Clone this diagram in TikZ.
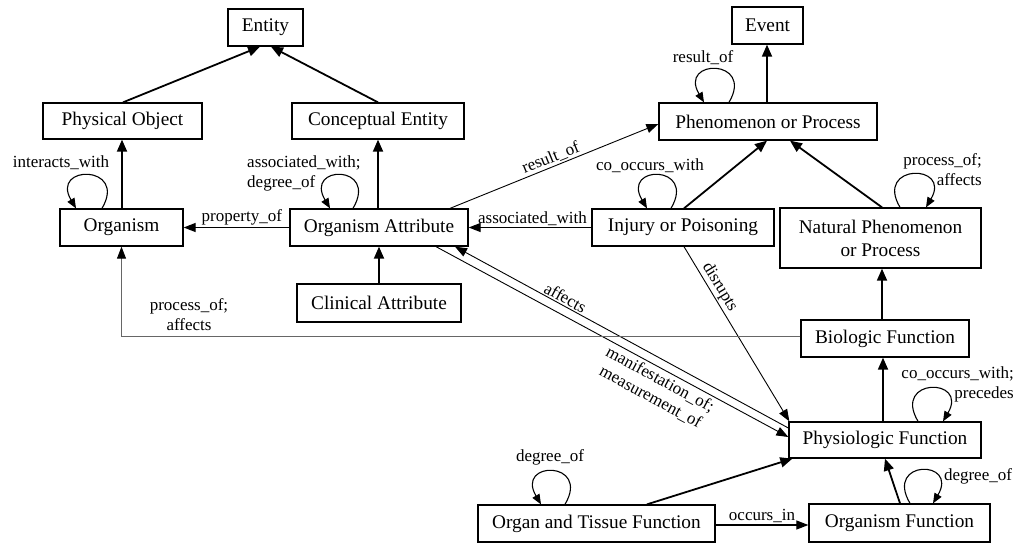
\documentclass[tikz,border=0pt]{standalone}
\usepackage{fontspec}
\setmainfont{Liberation Serif}
\usetikzlibrary{arrows.meta,calc}
\begin{document}
\begin{tikzpicture}[x=1pt,y=-1pt,
 box/.style={draw, line width=1.3pt, inner sep=0pt, font=\fontsize{19.3}{23}\selectfont, align=center},
 lbl/.style={font=\fontsize{17}{20}\selectfont, inner sep=1.5pt},
 isa/.style={line width=1.8pt, -{Triangle[length=12pt,width=10pt]}},
 rel/.style={line width=1.2pt, -{Triangle[length=12pt,width=9pt]}},
 thinrel/.style={line width=0.9pt, -{Triangle[length=12pt,width=9pt]}},
 loopar/.style={line width=1.1pt, -{Triangle[length=10pt,width=8pt]}}
]
\useasboundingbox[fill=white] (0,0) rectangle (1025,546);

% nodes
\node[box, minimum width=75pt, minimum height=37pt] (Entity) at (265.5,27.5) {Entity};
\node[box, minimum width=159pt, minimum height=36pt] (PO) at (122.5,121) {Physical Object};
\node[box, minimum width=172pt, minimum height=36pt] (CE) at (378,121) {Conceptual Entity};
\node[box, minimum width=123pt, minimum height=37pt] (Organism) at (121.5,227.5) {Organism};
\node[box, minimum width=178pt, minimum height=37pt] (OA) at (379,227.5) {Organism Attribute};
\node[box, minimum width=164pt, minimum height=38pt] (CA) at (379,303) {Clinical Attribute};
\node[box, minimum width=71pt, minimum height=37pt] (Event) at (767.5,25.5) {Event};
\node[box, minimum width=218pt, minimum height=37pt] (Phen) at (768,121.5) {Phenomenon or Process};
\node[box, minimum width=182pt, minimum height=37pt] (Inj) at (683,227.5) {Injury or Poisoning};
\node[box, minimum width=201pt, minimum height=60pt] (Nat) at (880.5,238) {Natural Phenomenon\\or Process};
\node[box, minimum width=168pt, minimum height=37pt] (Bio) at (885,338.5) {Biologic Function};
\node[box, minimum width=192pt, minimum height=36pt] (Phys) at (885,440) {Physiologic Function};
\node[box, minimum width=237pt, minimum height=37pt] (OTF) at (596.5,523.5) {Organ and Tissue Function};
\node[box, minimum width=181pt, minimum height=38pt] (OF) at (899.5,523) {Organism Function};

% hierarchy
\draw[isa] ($(PO.north)+(0.5,0)$) -- ($(Entity.south)+(-5.5,0)$);
\draw[isa] (CE.north) -- ($(Entity.south)+(5.5,0)$);
\draw[isa] ($(Organism.north)+(0.5,0)$) -- ($(Organism.north |- PO.south)+(0.5,0)$);
\draw[isa] ($(OA.north)+(-1,0)$) -- ($(OA.north |- CE.south)+(-1,0)$);
\draw[isa] (CA.north) -- (CA.north |- OA.south);
\draw[isa] ($(Phen.north)+(-1,0)$) -- ($(Phen.north |- Event.south)+(-1,0)$);
\draw[isa] ($(Inj.north)+(1,0)$) -- ($(Phen.south)+(-1,0)$);
\draw[isa] ($(Nat.north)+(1.5,0)$) -- ($(Phen.south)+(22,0)$);
\draw[isa] ($(Bio.north)+(-3,0)$) -- ($(Nat.south)+(1.5,0)$);
\draw[isa] ($(Phys.north)+(-2,0)$) -- ($(Bio.south)+(-2,0)$);
\draw[isa] ($(OTF.north)+(50.5,0)$) -- ($(Phys.south west)+(4,0)$);
\draw[isa] ($(OF.north)+(0.5,0)$) -- (Phys.south);

% relations
\draw[rel] (OA.west) -- node[lbl, above, pos=0.45] {property\_of} (Organism.east);
\draw[rel] (Inj.west) -- node[lbl, above, pos=0.48] {associated\_with} (OA.east);
\draw[thinrel] ($(OA.north)+(71,0)$) -- node[lbl, sloped, above, midway] {result\_of} ($(Phen.west)+(0,2.5)$);
\draw[thinrel] ($(Inj.south)+(1,0)$) -- node[lbl, sloped, above, pos=0.26] {disrupts} ($(Phys.north west)+(1,0)$);
\draw[thinrel, {Triangle[length=12pt,width=9pt]}-] ($(OA.south)+(76,0)$) -- node[lbl, sloped, above, pos=0.32] {affects} ($(Phys.west)+(0,-12)$);
\draw[thinrel] ($(OA.south)+(57,0)$) -- node[lbl, sloped, below, pos=0.65, align=center, inner sep=3pt] {manifestation\_of;\\measurement\_of} ($(Phys.west)+(0,-3)$);
\draw[rel] ($(OTF.east)+(0,1.5)$) -- node[lbl, above, midway] {occurs\_in} ($(OF.west)+(0,2)$);
\draw[line width=0.9pt, draw=black!60, -{Triangle[length=12pt,width=9pt,color=black]}] ($(Bio.west)+(0,-2)$) -- ($(Bio.west -| Organism.south)+(0,-2)$) -- (Organism.south);
\node[lbl, align=center] (lpa) at (189,315) {process\_of;\\affects};

% self loops
\draw[loopar] ($(Organism.north)+(-19.5,0)$) .. controls +(26,-44) and +(-26,-44) .. ($(Organism.north)+(-45.5,0)$);
\node[lbl] (lint) at (61,163) {interacts\_with};
\draw[loopar] ($(OA.north)+(-26,0)$) .. controls +(26,-44) and +(-26,-44) .. ($(OA.north)+(-49,0)$);
\node[lbl, align=left, anchor=west, inner sep=0pt] (lassoc) at (247,173) {associated\_with;\\degree\_of};
\draw[loopar] ($(Phen.north)+(-39,0)$) .. controls +(26,-44) and +(-26,-44) .. ($(Phen.north)+(-64,0)$);
\node[lbl] (lres) at (703,58) {result\_of};
\draw[loopar] ($(Inj.north)+(-12,0)$) .. controls +(26,-44) and +(-26,-44) .. ($(Inj.north)+(-36,0)$);
\node[lbl] (lco) at (650,166) {co\_occurs\_with};
\draw[loopar] ($(Nat.north)+(19.5,0)$) .. controls +(-26,-44) and +(26,-44) .. ($(Nat.north)+(45.5,0)$);
\node[lbl, align=right, anchor=east, inner sep=0pt] (lnat) at (982,170) {process\_of;\\affects};
\draw[loopar] ($(Phys.north)+(33,0)$) .. controls +(-26,-44) and +(26,-44) .. ($(Phys.north)+(58,0)$);
\node[lbl, align=right, anchor=east, inner sep=0pt] (lphys) at (1014,384) {co\_occurs\_with;\\precedes};
\draw[loopar] ($(OTF.north)+(-31.5,0)$) .. controls +(26,-44) and +(-26,-44) .. ($(OTF.north)+(-55.5,0)$);
\node[lbl] (lotf) at (550,457) {degree\_of};
\draw[loopar] ($(OF.north)+(10.5,0)$) .. controls +(-26,-44) and +(26,-44) .. ($(OF.north)+(33.5,0)$);
\node[lbl] (lof) at (978,476) {degree\_of};
\end{tikzpicture}
\end{document}
